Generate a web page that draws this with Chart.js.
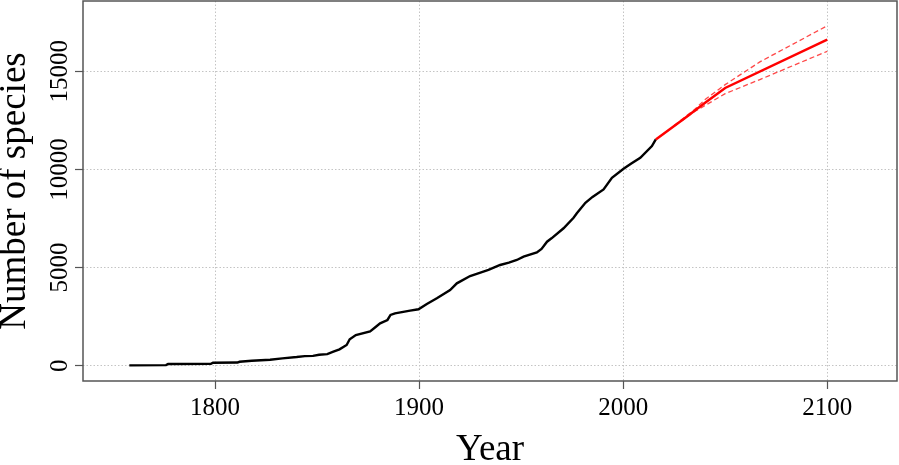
<!DOCTYPE html>
<html><head><meta charset="utf-8">
<script src="https://cdn.jsdelivr.net/npm/chart.js@4"></script>
<style>html,body{margin:0;padding:0;background:#fff}</style>
</head><body>
<canvas id="c" width="899" height="465"></canvas>
<script>
const obsYears = [1758,1776,1777,1798,1799,1811,1812,1818,1827,1833,1840,1844,1848,1851,1855,1858,1861,1864.5,1866,1869,1876,1879,1880.9,1884.5,1886,1888.2,1895.6,1899.7,1903.8,1908.7,1915.2,1918.5,1925,1931.5,1934,1939.7,1944,1947.9,1951.2,1957.7,1960,1962.7,1964.9,1970.8,1975.7,1977.3,1981.5,1985,1990.4,1994.5,2000.2,2004,2008.4,2014.1,2016];
const obsSpecies = [15,30,85,95,150,160,200,255,305,375,440,490,500,560,590,713,835,1055,1345,1564,1750,2000,2160,2329,2584,2670,2803,2873,3143,3434,3857,4196,4570,4789,4877,5130,5250,5385,5555,5770,5950,6318,6490,7001,7540,7765,8300,8600,8980,9577,10035,10300,10596,11187,11529];
const projYears = [2016,2030,2040,2050,2100];
const projMean = [11529,12600,13380,14150,16610];
const upperYears = [2025,2035,2040,2050,2067,2100];
const projUpper = [12240,13050,13550,14320,15480,17320];
const lowerYears = [2025,2035,2040,2050,2067,2100];
const projLower = [12200,12950,13250,13860,14580,16020];
const xTickValues = [1800,1900,2000,2100];
const yTickValues = [0,5000,10000,15000];

const pts = (xs, ys) => xs.map((x, i) => ({x: x, y: ys[i]}));
const serif = "'Liberation Serif', 'Times New Roman', serif";

const boxPlugin = {
  id: 'box',
  afterDraw(chart) {
    const {ctx, chartArea: a} = chart;
    ctx.save();
    ctx.strokeStyle = '#555';
    ctx.lineWidth = 1.5;
    ctx.strokeRect(a.left, a.top, a.right - a.left, a.bottom - a.top);
    ctx.restore();
  }
};

new Chart(document.getElementById('c'), {
  type: 'line',
  data: {
    datasets: [
      {data: pts(obsYears, obsSpecies), borderColor: '#000', borderWidth: 2.4, pointRadius: 0, tension: 0, order: 3},
      {data: pts(upperYears, projUpper), borderColor: 'rgba(255,40,40,0.85)', borderWidth: 1.3, borderDash: [5,3], pointRadius: 0, tension: 0, order: 2},
      {data: pts(lowerYears, projLower), borderColor: 'rgba(255,40,40,0.85)', borderWidth: 1.3, borderDash: [5,3], pointRadius: 0, tension: 0, order: 2},
      {data: pts(projYears, projMean), borderColor: '#ff0000', borderWidth: 2.5, pointRadius: 0, tension: 0, order: 1}
    ]
  },
  options: {
    responsive: false,
    animation: false,
    devicePixelRatio: 1,
    layout: {padding: {top: 1, right: 2, left: 0, bottom: 0}},
    plugins: {legend: {display: false}, tooltip: {enabled: false}},
    scales: {
      x: {
        type: 'linear', min: 1735.3, max: 2134.2,
        afterBuildTicks: s => { s.ticks = xTickValues.map(v => ({value: v})); },
        afterFit: s => { s.height = 84; },
        grid: {color: '#c4c4c4', lineWidth: 1, tickLength: 8, tickColor: '#555', tickWidth: 1.2, tickBorderDash: []},
        border: {display: false, dash: [1.5, 2]},
        ticks: {autoSkip: false, maxRotation: 0, padding: 4, color: '#000', font: {family: serif, size: 25}, callback: v => String(v)},
        title: {display: true, text: 'Year', color: '#000', font: {family: serif, size: 37, lineHeight: 0.8}, padding: 0}
      },
      y: {
        type: 'linear', min: -780, max: 18582,
        afterBuildTicks: s => { s.ticks = yTickValues.map(v => ({value: v})); },
        afterFit: s => { s.width = 83; },
        grid: {color: '#c4c4c4', lineWidth: 1, tickLength: 8, tickColor: '#555', tickWidth: 1.2, tickBorderDash: []},
        border: {display: false, dash: [1.5, 2]},
        ticks: {autoSkip: false, minRotation: 90, maxRotation: 90, crossAlign: 'center', padding: -17, color: '#000', font: {family: serif, size: 25}, callback: v => String(v)},
        title: {display: true, text: 'Number of species', color: '#000', font: {family: serif, size: 37, lineHeight: 0.8}, padding: 0}
      }
    }
  },
  plugins: [boxPlugin]
});
</script>
</body></html>
